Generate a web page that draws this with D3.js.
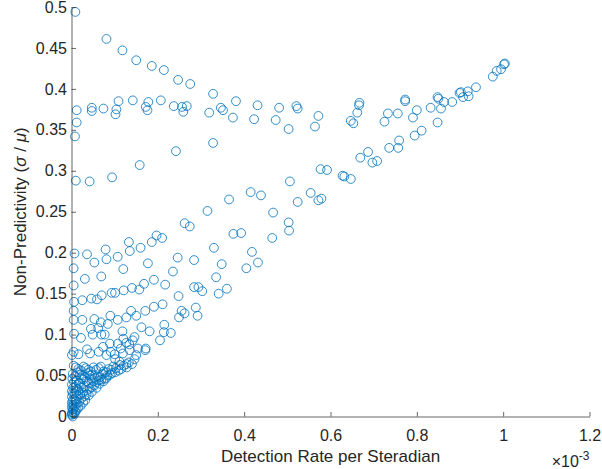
<!DOCTYPE html>
<html>
<head>
<meta charset="utf-8">
<script src="https://cdn.jsdelivr.net/npm/d3@7"></script>
<style>
  body { margin: 0; background: #fff; }
  text { font-family: "Liberation Sans", Arial, Helvetica, sans-serif; fill: #262626; }
</style>
</head>
<body>
<div id="chart"></div>
<script>
// Scatter of non-predictivity vs detection rate (x values in units of 1e-3)

const xTicks = [0, 0.2, 0.4, 0.6, 0.8, 1, 1.2];
const xTickLabels = ["0", "0.2", "0.4", "0.6", "0.8", "1", "1.2"];
const yTicks = [0, 0.05, 0.1, 0.15, 0.2, 0.25, 0.3, 0.35, 0.4, 0.45, 0.5];
const yTickLabels = ["0", "0.05", "0.1", "0.15", "0.2", "0.25", "0.3", "0.35", "0.4", "0.45", "0.5"];

// [detection rate (x1e-3), non-predictivity]
const upperBranch = [
  [0.009,0.494],[0.081,0.461],[0.118,0.447],[0.150,0.435],[0.186,0.428],[0.214,0.423],
  [0.247,0.411],[0.275,0.406],[0.328,0.394]
];
const plateau = [
  [0.012,0.374],[0.012,0.359],[0.008,0.342],[0.047,0.377],[0.047,0.373],[0.074,0.376],
  [0.102,0.369],[0.104,0.375],[0.109,0.385],[0.142,0.386],[0.172,0.378],[0.176,0.374],
  [0.178,0.384],[0.207,0.386],[0.237,0.379],[0.256,0.378],[0.259,0.372],[0.267,0.379],
  [0.319,0.371],[0.346,0.377],[0.351,0.374],[0.374,0.365],[0.381,0.385],[0.423,0.363],
  [0.431,0.380],[0.473,0.362],[0.481,0.377],[0.503,0.351],[0.521,0.379],[0.524,0.376]
];
const midScatter = [
  [0.010,0.288],[0.042,0.287],[0.094,0.292],[0.158,0.307],[0.242,0.324],[0.328,0.334]
];
const rightUpper = [
  [0.572,0.367],[0.564,0.354],[0.667,0.383],[0.666,0.380],[0.662,0.371],[0.647,0.361],
  [0.653,0.358],[0.725,0.360],[0.733,0.370],[0.756,0.370],[0.773,0.387],[0.773,0.385],
  [0.791,0.365],[0.800,0.374],[0.832,0.377],[0.848,0.390],[0.850,0.388],[0.856,0.376],
  [0.848,0.359],[0.863,0.384],[0.882,0.384],[0.899,0.395],[0.902,0.396],[0.907,0.390],
  [0.918,0.397],[0.920,0.391],[0.937,0.402],[0.976,0.415],[0.985,0.422],[0.995,0.424],
  [1.002,0.430],[1.004,0.431]
];
const rightLower = [
  [0.811,0.349],[0.795,0.343],[0.759,0.337],[0.757,0.328],[0.736,0.328],[0.687,0.323],
  [0.669,0.316],[0.697,0.310],[0.708,0.312],[0.577,0.302],[0.592,0.301],[0.628,0.294],
  [0.632,0.293],[0.647,0.290],[0.554,0.273],[0.572,0.264],[0.579,0.266]
];
const band020 = [
  [0.506,0.287],[0.524,0.262],[0.415,0.274],[0.439,0.270],[0.365,0.265],[0.315,0.251],
  [0.467,0.249],[0.262,0.236],[0.274,0.232],[0.503,0.237],[0.504,0.227],[0.375,0.223],
  [0.393,0.224],[0.465,0.218],[0.197,0.221],[0.210,0.218],[0.186,0.213],[0.133,0.213],
  [0.330,0.206],[0.160,0.206],[0.135,0.202],[0.079,0.204],[0.007,0.199],[0.036,0.198]
];
const band017 = [
  [0.081,0.192],[0.107,0.195],[0.053,0.188],[0.005,0.181],[0.031,0.168],[0.069,0.171],
  [0.120,0.180],[0.177,0.187],[0.191,0.167],[0.235,0.177],[0.246,0.194],[0.284,0.191],
  [0.335,0.170],[0.348,0.186],[0.405,0.181],[0.418,0.201],[0.432,0.188]
];
const band015 = [
  [0.005,0.160],[0.284,0.158],[0.294,0.158],[0.303,0.153],[0.341,0.150],[0.360,0.156],
  [0.006,0.140],[0.025,0.142],[0.046,0.144],[0.059,0.143],[0.070,0.148],[0.093,0.151],
  [0.101,0.151],[0.121,0.154],[0.140,0.157],[0.157,0.155],[0.168,0.162],[0.217,0.161],
  [0.248,0.147]
];
const band012 = [
  [0.005,0.129],[0.005,0.118],[0.025,0.118],[0.053,0.119],[0.068,0.115],[0.090,0.123],
  [0.084,0.113],[0.107,0.118],[0.127,0.121],[0.138,0.129],[0.150,0.123],[0.171,0.129],
  [0.191,0.134],[0.211,0.137],[0.255,0.129],[0.262,0.126],[0.288,0.133],[0.292,0.123],
  [0.249,0.121]
];
const band010 = [
  [0.006,0.101],[0.022,0.096],[0.045,0.107],[0.062,0.108],[0.069,0.100],[0.077,0.100],
  [0.049,0.100],[0.118,0.104],[0.120,0.095],[0.146,0.097],[0.162,0.109],[0.181,0.104],
  [0.215,0.112],[0.214,0.103],[0.230,0.102],[0.205,0.093],[0.172,0.083],[0.171,0.081]
];
const band008 = [
  [0.005,0.079],[0.001,0.075],[0.016,0.076],[0.036,0.082],[0.043,0.077],[0.063,0.079],
  [0.073,0.085],[0.089,0.089],[0.091,0.079],[0.107,0.089],[0.114,0.083],[0.134,0.088],
  [0.127,0.090],[0.142,0.093],[0.150,0.075],[0.135,0.081],[0.154,0.083],[0.100,0.076],
  [0.081,0.075],[0.119,0.077],[0.133,0.066],[0.127,0.064],[0.111,0.067],[0.101,0.070]
];
const nearOrigin = [
  [0.005,0.062],[0.016,0.058],[0.028,0.061],[0.039,0.057],[0.051,0.060],[0.063,0.059],
  [0.074,0.055],[0.086,0.058],[0.097,0.061],[0.109,0.056],[0.121,0.062],
  [0.003,0.052],[0.014,0.054],[0.025,0.050],[0.037,0.053],[0.048,0.051],[0.060,0.049],
  [0.072,0.052],[0.083,0.050],[0.094,0.053],
  [0.002,0.046],[0.012,0.044],[0.023,0.047],[0.035,0.043],[0.046,0.046],[0.058,0.042],
  [0.069,0.045],[0.081,0.047],
  [0.001,0.039],[0.009,0.036],[0.019,0.040],[0.030,0.037],[0.042,0.034],[0.053,0.038],
  [0.065,0.040],
  [0.001,0.031],[0.007,0.028],[0.016,0.032],[0.026,0.029],[0.035,0.027],[0.047,0.030],
  [0.001,0.024],[0.007,0.021],[0.014,0.025],[0.023,0.022],[0.032,0.020],
  [0.001,0.017],[0.005,0.014],[0.012,0.016],[0.021,0.013],
  [0.001,0.011],[0.005,0.009],[0.012,0.008],
  [0.001,0.005],[0.005,0.004],[0.0005,0.002],[0.003,0.000]
];
const nearOriginFill = [
  [0.010,0.060],[0.022,0.056],[0.033,0.059],[0.045,0.055],[0.057,0.057],[0.068,0.061],
  [0.080,0.054],[0.092,0.057],[0.103,0.059],[0.115,0.058],[0.128,0.060],[0.140,0.064],
  [0.146,0.070],
  [0.008,0.049],[0.019,0.051],[0.031,0.048],[0.042,0.050],[0.054,0.047],[0.066,0.048],
  [0.077,0.046],[0.089,0.051],[0.101,0.054],[0.112,0.063],
  [0.006,0.042],[0.017,0.041],[0.028,0.045],[0.040,0.041],[0.051,0.043],[0.063,0.044],
  [0.074,0.043],
  [0.004,0.035],[0.013,0.034],[0.024,0.035],[0.036,0.032],[0.047,0.036],[0.058,0.035],
  [0.003,0.028],[0.011,0.030],[0.020,0.027],[0.030,0.025],[0.040,0.026],
  [0.003,0.020],[0.010,0.019],[0.018,0.018],[0.027,0.017],
  [0.002,0.014],[0.008,0.012],[0.016,0.011],
  [0.003,0.008],[0.009,0.006],[0.002,0.003],[0.007,0.003]
];

const allPoints = [].concat(upperBranch, plateau, midScatter, rightUpper, rightLower,
  band020, band017, band015, band012, band010, band008, nearOrigin, nearOriginFill);

const width = 602, height = 469;
const margin = {left: 71.5, right: 12.5, top: 7, bottom: 52.5};

const svg = d3.select("#chart").append("svg")
  .attr("width", width)
  .attr("height", height);

const x = d3.scaleLinear().domain([0, 1.2]).range([margin.left, width - margin.right]);
const y = d3.scaleLinear().domain([0, 0.5]).range([height - margin.bottom, margin.top]);

// points
svg.append("g")
  .selectAll("circle")
  .data(allPoints)
  .enter()
  .append("circle")
    .attr("cx", d => x(d[0]))
    .attr("cy", d => y(d[1]))
    .attr("r", 4.4)
    .attr("fill", "none")
    .attr("stroke", "#0072BD")
    .attr("stroke-opacity", 0.8)
    .attr("stroke-width", 1);

// x axis, ticks pointing inward
const xAxis = svg.append("g")
  .attr("transform", `translate(0,${height - margin.bottom})`)
  .call(d3.axisBottom(x)
    .tickValues(xTicks)
    .tickFormat((d, i) => xTickLabels[i])
    .tickSizeInner(-4.5)
    .tickSizeOuter(0)
    .tickPadding(13));

// y axis
const yAxis = svg.append("g")
  .attr("transform", `translate(${margin.left},0)`)
  .call(d3.axisLeft(y)
    .tickValues(yTicks)
    .tickFormat((d, i) => yTickLabels[i])
    .tickSizeInner(-4.5)
    .tickSizeOuter(0)
    .tickPadding(4.5));

[xAxis, yAxis].forEach(g => {
  g.select(".domain").attr("stroke", "#262626").attr("stroke-width", 0.7);
  g.selectAll(".tick line").attr("stroke", "#262626").attr("stroke-width", 0.7);
  g.selectAll(".tick text")
    .attr("fill", "#262626")
    .attr("font-size", "16px")
    .attr("font-family", '"Liberation Sans", Arial, sans-serif');
});

// axis labels
svg.append("text")
  .attr("x", (margin.left + width - margin.right) / 2)
  .attr("y", 462)
  .attr("text-anchor", "middle")
  .attr("font-size", "17px")
  .text("Detection Rate per Steradian");

const yLab = svg.append("text")
  .attr("transform", `translate(26,${(margin.top + height - margin.bottom) / 2}) rotate(-90)`)
  .attr("text-anchor", "middle")
  .attr("font-size", "17px");
yLab.append("tspan").text("Non-Predictivity (");
yLab.append("tspan").attr("font-style", "italic").text("σ");
yLab.append("tspan").text(" / ");
yLab.append("tspan").attr("font-style", "italic").text("μ");
yLab.append("tspan").text(")");

// exponent note
const expo = svg.append("text")
  .attr("x", width - margin.right)
  .attr("y", 467)
  .attr("text-anchor", "end")
  .attr("font-size", "16px");
expo.append("tspan").text("×10");
expo.append("tspan").attr("font-size", "12px").attr("dy", -7).text("-3");
</script>
</body>
</html>
